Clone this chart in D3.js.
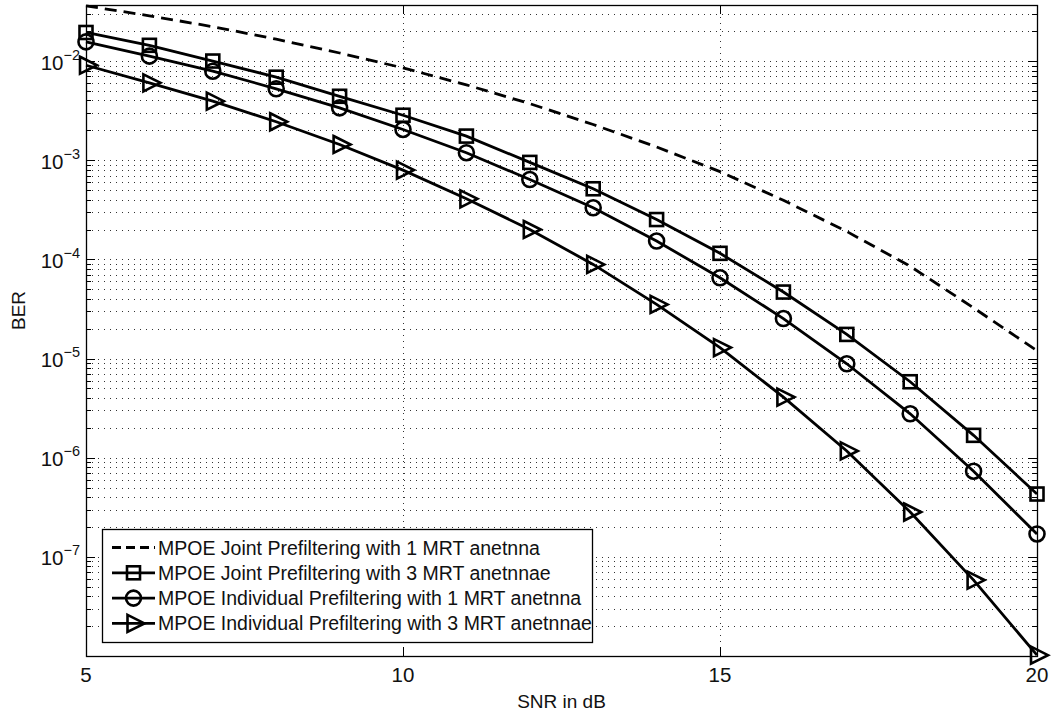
<!DOCTYPE html>
<html>
<head>
<meta charset="utf-8">
<script src="https://cdn.jsdelivr.net/npm/d3@7"></script>
<style>
  html, body { margin: 0; padding: 0; background: #fff; }
  svg { display: block; font-family: "Liberation Sans", Arial, Helvetica, sans-serif; }
</style>
</head>
<body>
<svg id="chart" width="1053" height="713"></svg>
<script>
// ---- data ----
const snr = [5, 6, 7, 8, 9, 10, 11, 12, 13, 14, 15, 16, 17, 18, 19, 20];
const berJoint1 = [0.0360, 0.0286, 0.0222, 0.0166, 0.01205, 0.00853, 0.00575, 0.00372, 0.00229, 0.00136, 0.000767, 0.000394, 0.000191, 0.0000851, 0.0000324, 0.0000120];
const berJoint3 = [0.0194, 0.0144, 0.0100, 0.00687, 0.00441, 0.00284, 0.00175, 0.00095, 0.000515, 0.000252, 0.000115, 0.0000468, 0.0000175, 0.00000583, 0.00000168, 0.00000043];
const berIndiv1 = [0.0156, 0.0112, 0.0079, 0.00525, 0.00337, 0.00204, 0.00119, 0.000638, 0.000331, 0.000153, 0.0000652, 0.0000253, 0.00000885, 0.00000277, 0.00000073, 0.00000017];
const berIndiv3 = [0.00907, 0.00603, 0.00394, 0.00244, 0.00144, 0.000794, 0.000408, 0.000200, 0.0000889, 0.0000351, 0.0000129, 0.00000408, 0.00000117, 0.000000283, 0.0000000583, 0.0000000102];
const seriesNames = [
  "MPOE Joint Prefiltering with 1 MRT anetnna",
  "MPOE Joint Prefiltering with 3 MRT anetnnae",
  "MPOE Individual Prefiltering with 1 MRT anetnna",
  "MPOE Individual Prefiltering with 3 MRT anetnnae"
];
const xTicks = [5, 10, 15, 20];
const yTickExps = [-7, -6, -5, -4, -3, -2];
const xLabel = "SNR in dB";
const yLabel = "BER";

// ---- layout ----
const L = 86, R = 1037, T = 5, B = 656;
const svg = d3.select("#chart");
const x = d3.scaleLinear().domain([5, 20]).range([L, R]);
const y = d3.scaleLog().domain([1e-8, Math.pow(10, -1.435)]).range([B, T]);

// grid
const gridG = svg.append("g");
const minorVals = [];
for (let e = -8; e <= -2; e++) for (let m = 1; m <= 9; m++) {
  const v = m * Math.pow(10, e);
  if (v > 1e-8 * 1.0001 && v < y.domain()[1]) minorVals.push(v);
}
gridG.selectAll("line.hg").data(minorVals).join("line")
  .attr("x1", L).attr("x2", R)
  .attr("y1", d => Math.round(y(d)) + 0.5).attr("y2", d => Math.round(y(d)) + 0.5)
  .attr("stroke", "#333").attr("stroke-width", 1).attr("stroke-dasharray", "1,5");
gridG.selectAll("line.vg").data(xTicks.slice(1, -1)).join("line")
  .attr("x1", d => Math.round(x(d)) + 0.5).attr("x2", d => Math.round(x(d)) + 0.5)
  .attr("y1", T).attr("y2", B)
  .attr("stroke", "#333").attr("stroke-width", 1).attr("stroke-dasharray", "1,5");

// ticks (inward, both sides)
const tickG = svg.append("g").attr("stroke", "#000").attr("stroke-width", 1);
minorVals.forEach(v => {
  const isMajor = Math.abs(Math.log10(v) - Math.round(Math.log10(v))) < 1e-6;
  const len = isMajor ? 9 : 5;
  const yy = Math.round(y(v)) + 0.5;
  tickG.append("line").attr("x1", L).attr("x2", L + len).attr("y1", yy).attr("y2", yy);
  tickG.append("line").attr("x1", R - len).attr("x2", R).attr("y1", yy).attr("y2", yy);
});
xTicks.forEach(t => {
  const xx = Math.round(x(t)) + 0.5;
  tickG.append("line").attr("x1", xx).attr("x2", xx).attr("y1", B).attr("y2", B - 9);
  tickG.append("line").attr("x1", xx).attr("x2", xx).attr("y1", T).attr("y2", T + 9);
});

// frame
svg.append("rect").attr("x", L + 0.5).attr("y", T + 0.5).attr("width", R - L).attr("height", B - T)
  .attr("fill", "none").attr("stroke", "#000").attr("stroke-width", 1.3);

// tick labels
svg.append("g").selectAll("text").data(xTicks).join("text")
  .attr("x", d => x(d)).attr("y", 682).attr("text-anchor", "middle")
  .attr("font-size", 20.5).attr("fill", "#111").text(d => d);

const yl = svg.append("g").selectAll("text").data(yTickExps).join("text")
  .attr("x", 80).attr("y", d => y(Math.pow(10, d)) + 8.5).attr("text-anchor", "end")
  .attr("font-size", 20.5).attr("fill", "#111");
yl.append("tspan").text("10");
yl.append("tspan").attr("dy", -10).attr("font-size", 14.5).text(d => "\u2212" + Math.abs(d));

// axis labels
svg.append("text").attr("x", (L + R) / 2).attr("y", 708).attr("text-anchor", "middle")
  .attr("font-size", 19).attr("fill", "#111").text(xLabel);
svg.append("text").attr("transform", `translate(25,${(T + B) / 2 - 20}) rotate(-90)`)
  .attr("text-anchor", "middle").attr("font-size", 19).attr("fill", "#111").text(yLabel);

// series
const series = [
  { name: seriesNames[0], values: berJoint1, dash: "12,7", marker: null },
  { name: seriesNames[1], values: berJoint3, dash: null, marker: "square" },
  { name: seriesNames[2], values: berIndiv1, dash: null, marker: "circle" },
  { name: seriesNames[3], values: berIndiv3, dash: null, marker: "triangle" }
];
const line = d3.line().x((d, i) => x(snr[i])).y(d => y(d));

function drawMarker(g, type, cx, cy) {
  if (type === "square") {
    g.append("rect").attr("x", cx - 6.5).attr("y", cy - 6.5).attr("width", 13).attr("height", 13)
      .attr("fill", "none").attr("stroke", "#000").attr("stroke-width", 2.6);
  } else if (type === "circle") {
    g.append("circle").attr("cx", cx).attr("cy", cy).attr("r", 7.5)
      .attr("fill", "none").attr("stroke", "#000").attr("stroke-width", 2.6);
  } else if (type === "triangle") {
    g.append("path").attr("d", `M${cx - 6},${cy - 8.5}L${cx + 11},${cy}L${cx - 6},${cy + 8.5}Z`)
      .attr("fill", "none").attr("stroke", "#000").attr("stroke-width", 2.6).attr("stroke-linejoin", "miter");
  }
}

const plotG = svg.append("g");
series.forEach(s => {
  plotG.append("path").datum(s.values).attr("d", line)
    .attr("fill", "none").attr("stroke", "#000").attr("stroke-width", 2.8)
    .attr("stroke-dasharray", s.dash);
  if (s.marker) {
    const mg = plotG.append("g");
    s.values.forEach((v, i) => drawMarker(mg, s.marker, x(snr[i]), y(v)));
  }
});

// legend
const lg = svg.append("g");
lg.append("rect").attr("x", 102.5).attr("y", 529.5).attr("width", 490).attr("height", 113)
  .attr("fill", "#fff").attr("stroke", "#000").attr("stroke-width", 1.3);
series.forEach((s, i) => {
  const cy = 547.5 + i * 25.3;
  lg.append("line").attr("x1", 112).attr("x2", 155).attr("y1", cy).attr("y2", cy)
    .attr("stroke", "#000").attr("stroke-width", 2.8).attr("stroke-dasharray", s.dash ? "9,5" : null);
  if (s.marker) drawMarker(lg, s.marker, 133.5, cy);
  lg.append("text").attr("x", 158).attr("y", cy + 7).attr("font-size", 19.5).attr("fill", "#111").text(s.name);
});
</script>
</body>
</html>
